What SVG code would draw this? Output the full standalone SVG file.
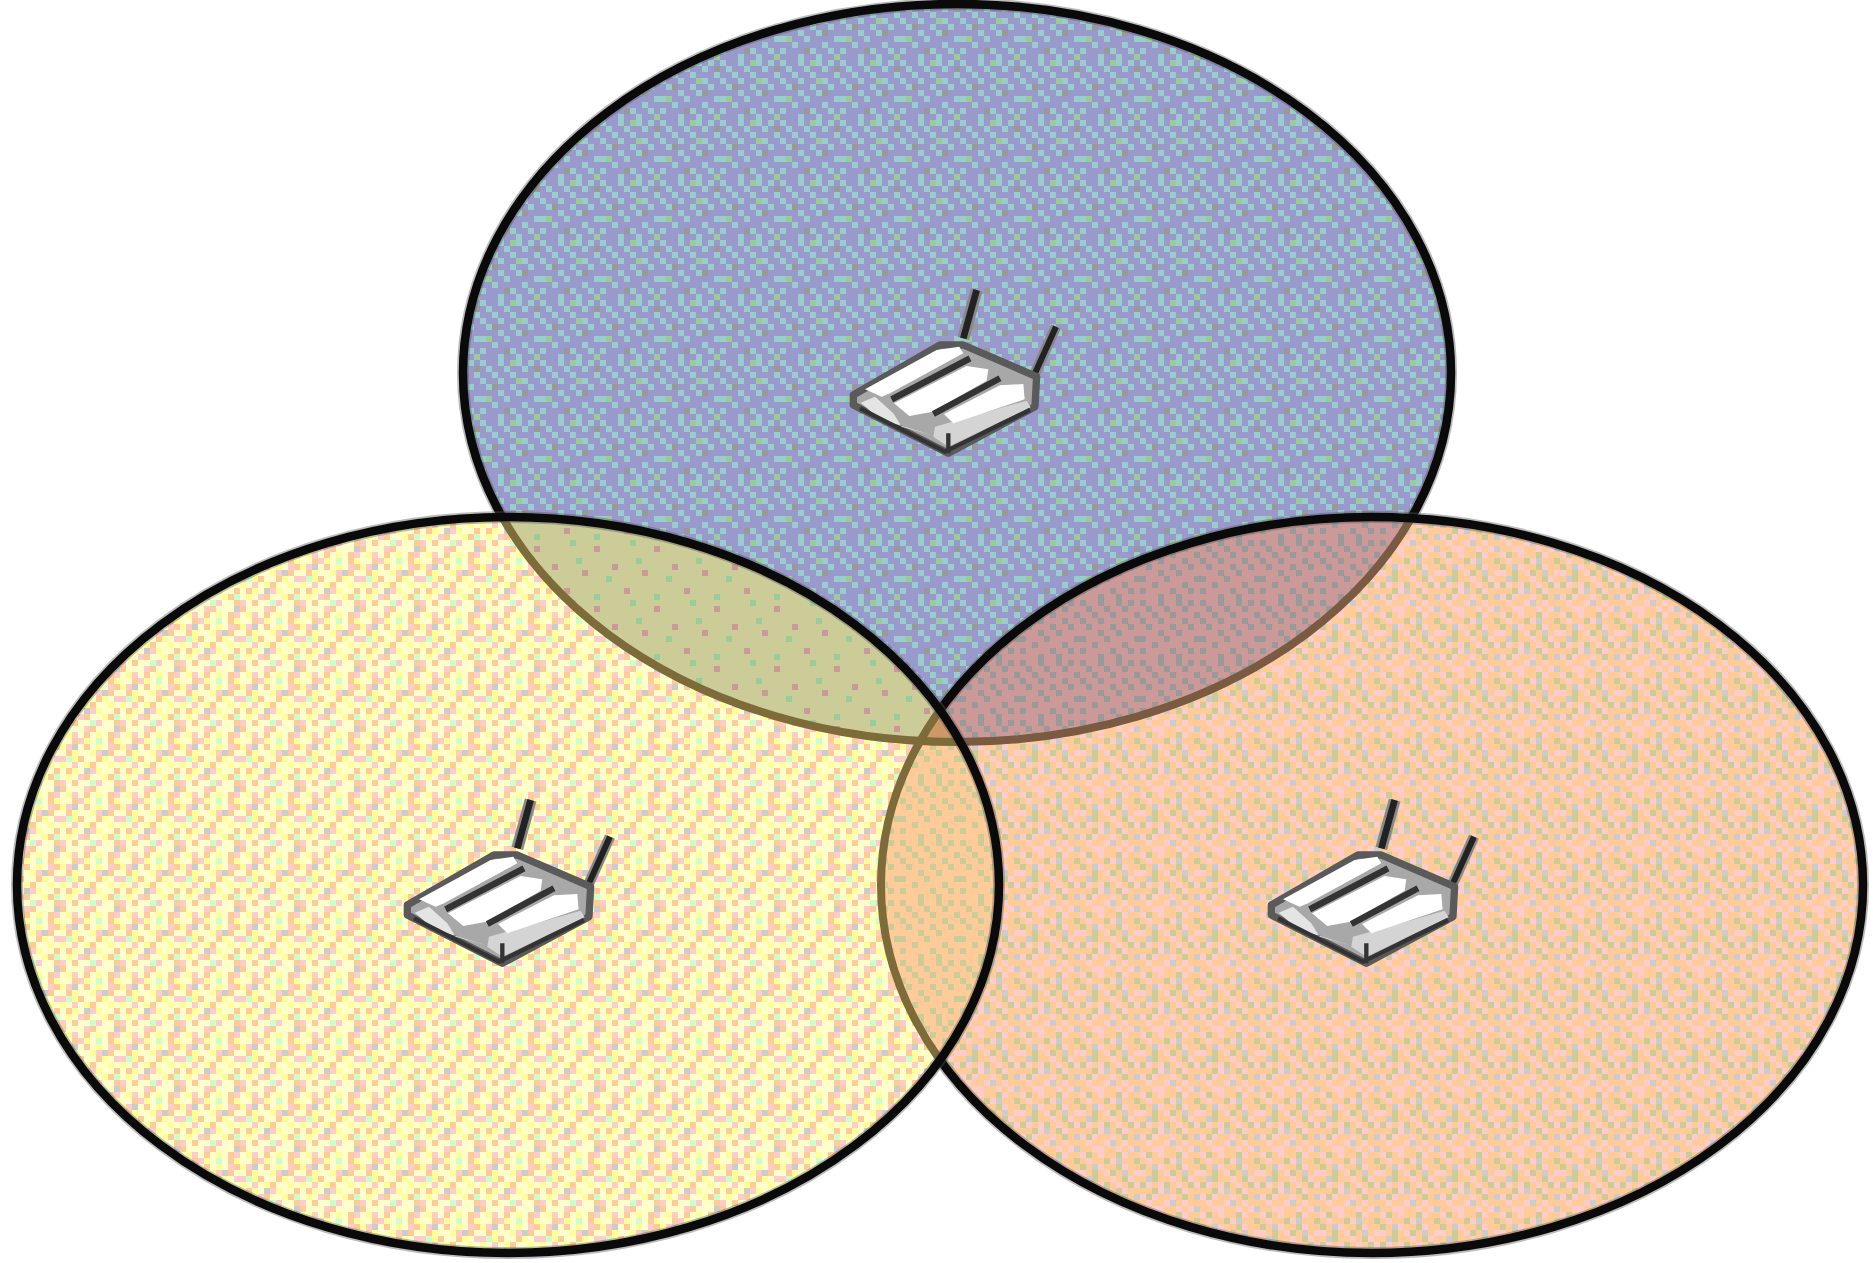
<svg xmlns="http://www.w3.org/2000/svg" width="1873" height="1263" viewBox="0 0 1873 1263">
<style>
.halo{fill:none;stroke:#555;stroke-opacity:.4;stroke-width:12}
.edge{fill:none;stroke:#0a0a0a;stroke-width:8.5}
.under{fill:none;stroke:#7d6c3a;stroke-width:8}
.underR{fill:none;stroke:#7a5a40;stroke-width:8}
.t1{fill:#fff}
</style>
<defs>
<path id="s1" transform="scale(6)" d="M0 0h1v1h-1zM3 0h1v1h-1zM6 0h1v1h-1zM8 0h1v1h-1zM1 1h1v1h-1zM4 1h1v1h-1zM7 1h1v1h-1zM2 2h1v1h-1zM5 2h1v1h-1zM9 2h1v1h-1zM0 3h1v1h-1zM3 3h1v1h-1zM7 3h1v1h-1zM1 4h1v1h-1zM5 4h1v1h-1zM8 4h1v1h-1zM3 5h1v1h-1zM6 5h1v1h-1zM0 6h1v1h-1zM4 6h1v1h-1zM9 6h1v1h-1zM2 7h1v1h-1zM7 7h1v1h-1zM0 8h1v1h-1zM5 8h1v1h-1zM8 8h1v1h-1zM3 9h1v1h-1zM6 9h1v1h-1z"/>
<path id="s2" transform="scale(6)" d="M1 2h1v1h-1zM6 2h1v1h-1zM4 3h1v1h-1zM9 3h1v1h-1zM0 4h1v1h-1zM6 4h1v1h-1zM2 5h1v1h-1zM5 5h1v1h-1zM2 6h1v1h-1zM7 6h1v1h-1zM0 7h1v1h-1zM4 7h1v1h-1zM8 7h1v1h-1zM2 8h1v1h-1zM6 8h1v1h-1zM1 9h1v1h-1zM7 9h1v1h-1z"/>
<path id="s3" transform="scale(6)" d="M2 0h1v1h-1zM9 0h1v1h-1zM0 1h1v1h-1zM5 1h1v1h-1zM4 2h1v1h-1zM8 2h1v1h-1zM2 3h1v1h-1zM8 3h1v1h-1zM4 4h1v1h-1zM9 4h1v1h-1zM1 5h1v1h-1zM8 5h1v1h-1zM3 6h1v1h-1zM6 6h1v1h-1zM5 7h1v1h-1zM1 8h1v1h-1zM9 8h1v1h-1zM4 9h1v1h-1zM8 9h1v1h-1z"/>
<path id="s4" transform="scale(6)" d="M9 1h1v1h-1zM2 4h1v1h-1zM7 5h1v1h-1zM4 8h1v1h-1z"/>
<path id="s5" transform="scale(6)" d="M5 0h1v1h-1zM1 6h1v1h-1zM6 3h1v1h-1zM9 9h1v1h-1z"/>
<path id="s6" transform="scale(6)" d="M0 0h1v1h-1zM6 0h1v1h-1zM4 1h1v1h-1zM2 2h1v1h-1zM9 2h1v1h-1zM3 3h1v1h-1zM1 4h1v1h-1zM8 4h1v1h-1zM6 5h1v1h-1zM0 6h1v1h-1zM9 6h1v1h-1zM2 7h1v1h-1zM5 8h1v1h-1zM3 9h1v1h-1z"/>
<pattern id="pBlue" width="60" height="60" patternUnits="userSpaceOnUse"><rect width="60" height="60" fill="#9999cc"/><use href="#s1" fill="#99cccc"/><use href="#s4" fill="#999999"/><use href="#s5" fill="#99cc99"/></pattern>
<pattern id="pYellow" width="60" height="60" patternUnits="userSpaceOnUse"><rect width="60" height="60" fill="#ffffcc"/><use href="#s6" fill="#ffcccc"/><use href="#s2" fill="#ffff99"/><use href="#s3" fill="#ffcc99"/><use href="#s4" fill="#cccccc"/><use href="#s5" fill="#ccffcc"/></pattern>
<pattern id="pOrange" width="60" height="60" patternUnits="userSpaceOnUse"><rect width="60" height="60" fill="#ffcccc"/><use href="#s1" fill="#ffcc99"/><use href="#s3" fill="#ffcc99"/><use href="#s2" fill="#cccc99"/><use href="#s4" fill="#cccccc"/><use href="#s5" fill="#cccccc"/></pattern>
<pattern id="pPeach" width="60" height="60" patternUnits="userSpaceOnUse"><rect width="60" height="60" fill="#ffcc99"/><use href="#s1" fill="#cccc99"/></pattern>
<pattern id="pOlive" width="60" height="60" patternUnits="userSpaceOnUse"><rect width="60" height="60" fill="#cccc99"/><use href="#s4" fill="#cc9999"/><use href="#s5" fill="#99cc99"/></pattern>
<pattern id="pRose" width="60" height="60" patternUnits="userSpaceOnUse"><rect width="60" height="60" fill="#cc9999"/><use href="#s1" fill="#999999"/></pattern>
<ellipse id="eTop" cx="957" cy="373" rx="494" ry="369"/>
<ellipse id="eLeft" cx="508" cy="885" rx="491" ry="368"/>
<ellipse id="eRight" cx="1372" cy="885" rx="491" ry="368"/>
<clipPath id="cTop"><use href="#eTop"/></clipPath>
<clipPath id="cLeft"><use href="#eLeft"/></clipPath>
<clipPath id="cRight"><use href="#eRight"/></clipPath>
<g id="router" transform="scale(.3333)">
<path d="M430 205L470 60" fill="none" stroke="#888" stroke-width="36"/>
<path d="M430 205L470 60" fill="none" stroke="#222" stroke-width="20"/>
<path d="M645 310L708 170" fill="none" stroke="#888" stroke-width="32"/>
<path d="M645 310L708 170" fill="none" stroke="#222" stroke-width="18"/>
<path d="M100 375L360 225H430L650 320L645 410L385 550L100 405Z" fill="#a8a8a8" stroke="#5a5a5a" stroke-width="22" stroke-linejoin="round"/>
<path d="M345 470L620 392L632 412L385 530L340 500Z" fill="#d4d4d4"/>
<path d="M122 398L165 380L220 430L245 470L335 495L180 448Z" fill="#e4e4e4"/>
<path class="t1" d="M135 358L350 240L418 230L430 250L210 370L185 380Z"/>
<path class="t1" d="M222 400L440 288L505 298L500 332L338 425L268 438Z"/>
<path class="t1" d="M372 432L540 346L610 342L614 388L400 460Z"/>
<path d="M215 388L450 265M340 432L540 325" fill="none" stroke="#333" stroke-width="19"/>
<path d="M120 415L375 545L630 420M385 490V550" fill="none" stroke="#333" stroke-width="13"/>
</g>
</defs>

<rect width="1873" height="1263" fill="#fff"/>

<g id="zone-top">
<use href="#eTop" fill="url(#pBlue)"/>
<use href="#eTop" class="halo"/>
<use href="#eTop" class="edge"/>
</g>

<g id="zone-right">
<use href="#eRight" fill="url(#pOrange)"/>
<g clip-path="url(#cRight)">
<use href="#eTop" fill="url(#pRose)"/>
<use href="#eTop" class="underR"/>
</g>
<use href="#eRight" class="halo"/>
<use href="#eRight" class="edge"/>
</g>

<g id="zone-left">
<use href="#eLeft" fill="url(#pYellow)"/>
<g clip-path="url(#cLeft)">
<use href="#eTop" fill="url(#pOlive)"/>
<use href="#eRight" fill="url(#pPeach)"/>
<g clip-path="url(#cTop)"><use href="#eRight" fill="#cc9966"/></g>
<use href="#eTop" class="under"/>
<use href="#eRight" class="under"/>
</g>
<use href="#eLeft" class="halo"/>
<use href="#eLeft" class="edge"/>
</g>

<g id="router-top" transform="translate(820 270)"><use href="#router"/></g>
<g id="router-left" transform="translate(374 780)"><use href="#router"/></g>
<g id="router-right" transform="translate(1238 780)"><use href="#router"/></g>
</svg>
